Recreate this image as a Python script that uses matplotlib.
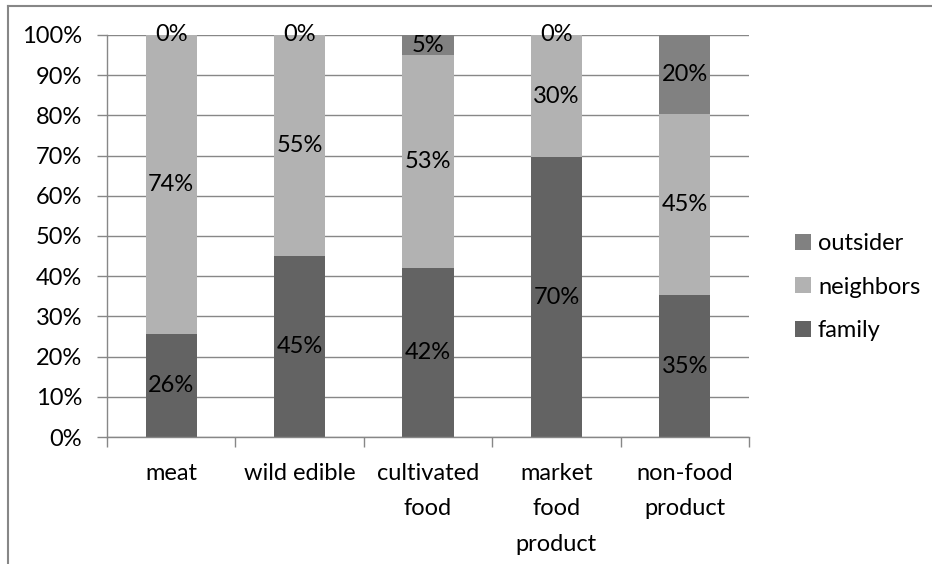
import numpy as np
import matplotlib
matplotlib.use("Agg")
import matplotlib.pyplot as plt
from matplotlib.lines import Line2D
from matplotlib.ticker import FuncFormatter

plt.rcParams['font.family'] = ['Lato', 'DejaVu Sans']

categories = ["meat", "wild edible", "cultivated\nfood", "market\nfood\nproduct", "non-food\nproduct"]
family = [25.6, 45.0, 42.0, 69.6, 35.3]
neighbors = [74.4, 55.0, 53.0, 30.4, 45.0]
outsider = [0.0, 0.0, 5.0, 0.0, 19.7]

series = [("family", family, "#636363"),
          ("neighbors", neighbors, "#b2b2b2"),
          ("outsider", outsider, "#818181")]

grid_col = "#878787"
fs = 17

fig = plt.figure(figsize=(9.32, 5.64), dpi=100)
ax = fig.add_axes([107/932, 1-437/564, (749-107)/932, (437-35)/564])

x = np.arange(len(categories))
bottom = np.zeros(len(categories))
handles = []
for name, vals, col in series:
    vals = np.array(vals)
    b = ax.bar(x, vals, 0.4, bottom=bottom, color=col, label=name, zorder=2)
    handles.append(b)
    for xi, v, b0 in zip(x, vals, bottom):
        ax.text(xi, b0 + v/2, f"{v:.0f}%", ha="center", va="center",
                fontsize=fs, color="black", zorder=3)
    bottom += vals

ax.set_xlim(-0.5, len(categories) - 0.5)
ax.set_ylim(0, 100)
ax.set_yticks(np.arange(0, 101, 10))
ax.yaxis.set_major_formatter(FuncFormatter(lambda v, p: f"{v:.0f}%"))
ax.yaxis.grid(True, color=grid_col, lw=1, zorder=0)
ax.set_axisbelow(True)

ax.set_xticks(x)
ax.set_xticklabels(categories, fontsize=fs, linespacing=1.85)
ax.set_xticks(np.arange(-0.5, len(categories)), minor=True)
ax.tick_params(axis="x", which="major", length=0, pad=18.5)
ax.tick_params(axis="x", which="minor", length=7, color=grid_col, width=1)
ax.tick_params(axis="y", length=7, color=grid_col, width=1, labelsize=fs, pad=11)

for s in ["top", "right"]:
    ax.spines[s].set_visible(False)
for s in ["left", "bottom"]:
    ax.spines[s].set_color(grid_col)
    ax.spines[s].set_linewidth(1)

ax.legend(handles[::-1], [h.get_label() for h in handles[::-1]],
          loc="center left", bbox_to_anchor=(786/932, 1-287/564),
          bbox_transform=fig.transFigure, frameon=False, fontsize=fs,
          handlelength=0.65, handleheight=0.65, handletextpad=0.3,
          labelspacing=0.95, borderaxespad=0)

# chart-area border (only left and top edges visible)
fig.add_artist(Line2D([8/932, 1], [1-6/564, 1-6/564], color=grid_col, lw=1.5,
                      transform=fig.transFigure))
fig.add_artist(Line2D([8/932, 8/932], [0, 1-6/564], color=grid_col, lw=1.5,
                      transform=fig.transFigure))

fig.savefig("out.png", dpi=100)
